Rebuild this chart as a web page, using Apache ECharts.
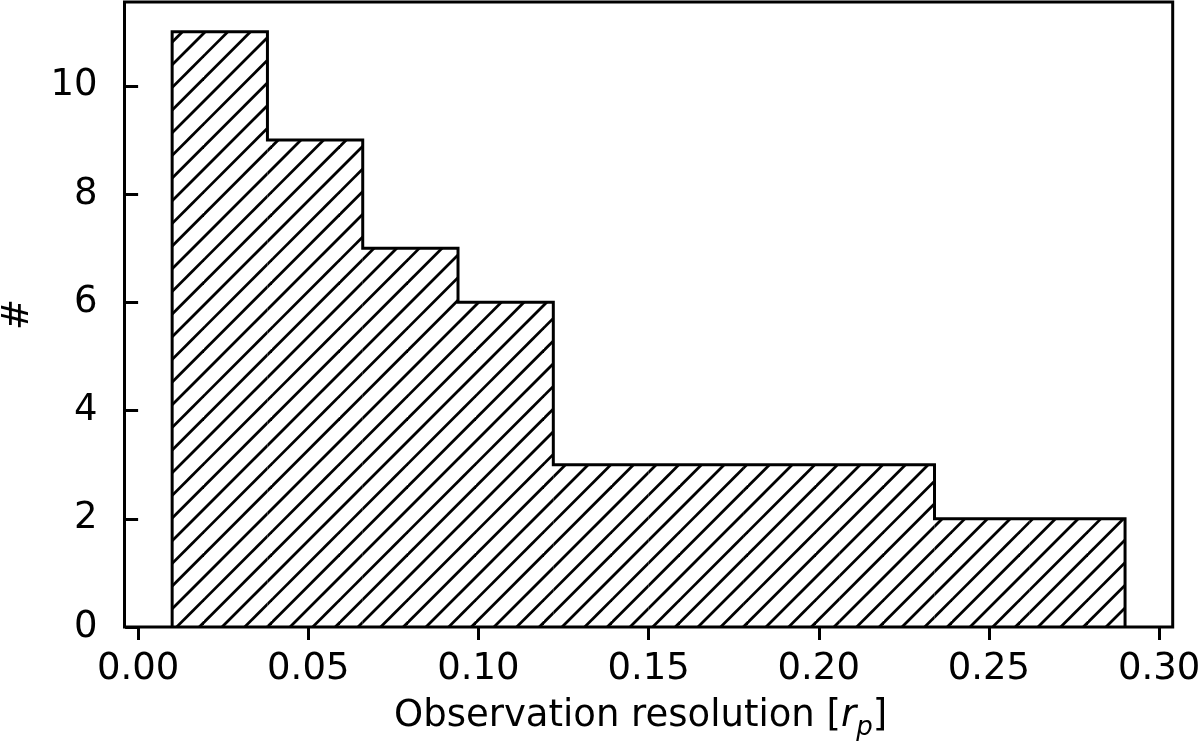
<!DOCTYPE html>
<html>
<head>
<meta charset="utf-8">
<script src="https://cdn.jsdelivr.net/npm/echarts@6/dist/echarts.min.js"></script>
<style>
html,body{margin:0;padding:0;background:#fff;}
#chart{width:1200px;height:746px;}
</style>
</head>
<body>
<div id="chart"></div>
<script>
// ---- data ----
const binEdges = [0.010, 0.038, 0.066, 0.094, 0.122, 0.150, 0.178, 0.206, 0.234, 0.262, 0.290];
const counts = [11, 9, 7, 6, 3, 3, 3, 3, 2, 2];
const xTickValues = [0.00, 0.05, 0.10, 0.15, 0.20, 0.25, 0.30];
const yTickValues = [0, 2, 4, 6, 8, 10];
const xAxisTitle = '{t|Observation resolution [}{r|r}{p|p}{t|]}';
const yAxisTitle = '#';

// ---- hatch pattern ----
function makeHatch() {
  const s = 68;
  const c = document.createElement('canvas');
  c.width = s; c.height = s;
  const ctx = c.getContext('2d');
  ctx.strokeStyle = '#000';
  ctx.lineWidth = 2.8;
  ctx.lineCap = 'butt';
  const sp = s / 3;
  for (let k = -4; k <= 9; k++) {
    const C = 10.3 + k * sp;
    ctx.beginPath();
    ctx.moveTo(C + 10, -10);
    ctx.lineTo(C - s - 10, s + 10);
    ctx.stroke();
  }
  return c;
}
const hatch = makeHatch();

const binData = counts.map((v, i) => [binEdges[i], binEdges[i + 1], v]);
const outline = [[binEdges[0], 0]];
counts.forEach((v, i) => {
  outline.push([binEdges[i], v]);
  outline.push([binEdges[i + 1], v]);
});
outline.push([binEdges[binEdges.length - 1], 0]);

const FONT = 'DejaVu Sans';
const FS = 37;
const chart = echarts.init(document.getElementById('chart'), null, {renderer: 'canvas'});
chart.setOption({
  animation: false,
  backgroundColor: '#fff',
  grid: {
    left: 124.5, right: 27.3, top: 2, bottom: 119,
    outerBoundsMode: 'none',
    containLabel: false,
    show: true, borderColor: '#000', borderWidth: 3, backgroundColor: 'transparent'
  },
  xAxis: {
    type: 'value',
    min: -0.004, max: 0.304,
    splitLine: {show: false},
    axisLine: {show: false},
    axisTick: {show: true, length: 13, lineStyle: {color: '#000', width: 3}, customValues: xTickValues},
    axisLabel: {
      customValues: xTickValues,
      formatter: v => v.toFixed(2),
      color: '#000', fontFamily: FONT, fontSize: FS, margin: 24
    },
    name: xAxisTitle,
    nameLocation: 'middle',
    nameGap: 64,
    nameTextStyle: {
      fontFamily: FONT, fontSize: FS, color: '#000',
      padding: [0, 16, 0, 0],
      rich: {
        t: {fontFamily: FONT, fontSize: FS, color: '#000', lineHeight: 50},
        r: {fontFamily: FONT, fontSize: FS, color: '#000', fontStyle: 'italic', lineHeight: 50},
        p: {fontFamily: FONT, fontSize: 26, color: '#000', fontStyle: 'italic', lineHeight: 26, verticalAlign: 'bottom'}
      }
    }
  },
  yAxis: {
    type: 'value',
    min: 0, max: 11.55,
    splitLine: {show: false},
    axisLine: {show: false},
    axisTick: {show: true, length: 13, lineStyle: {color: '#000', width: 3}, customValues: yTickValues},
    axisLabel: {
      customValues: yTickValues,
      formatter: v => String(v),
      color: '#000', fontFamily: FONT, fontSize: FS, margin: 27
    },
    name: yAxisTitle,
    nameLocation: 'middle',
    nameGap: 88,
    nameRotate: 90,
    nameTextStyle: {fontFamily: FONT, fontSize: FS, color: '#000'}
  },
  series: [
    {
      type: 'custom',
      data: binData,
      z: 2,
      renderItem: function (params, api) {
        const p0 = api.coord([api.value(0), api.value(2)]);
        const p1 = api.coord([api.value(1), 0]);
        return {
          type: 'rect',
          shape: {x: p0[0], y: p0[1], width: p1[0] - p0[0], height: p1[1] - p0[1]},
          style: {fill: {image: hatch, repeat: 'repeat'}, stroke: null}
        };
      }
    },
    {
      type: 'line',
      data: outline,
      z: 3,
      symbol: 'none',
      lineStyle: {color: '#000', width: 3, join: 'miter'},
      silent: true
    }
  ]
});
</script>
</body>
</html>
